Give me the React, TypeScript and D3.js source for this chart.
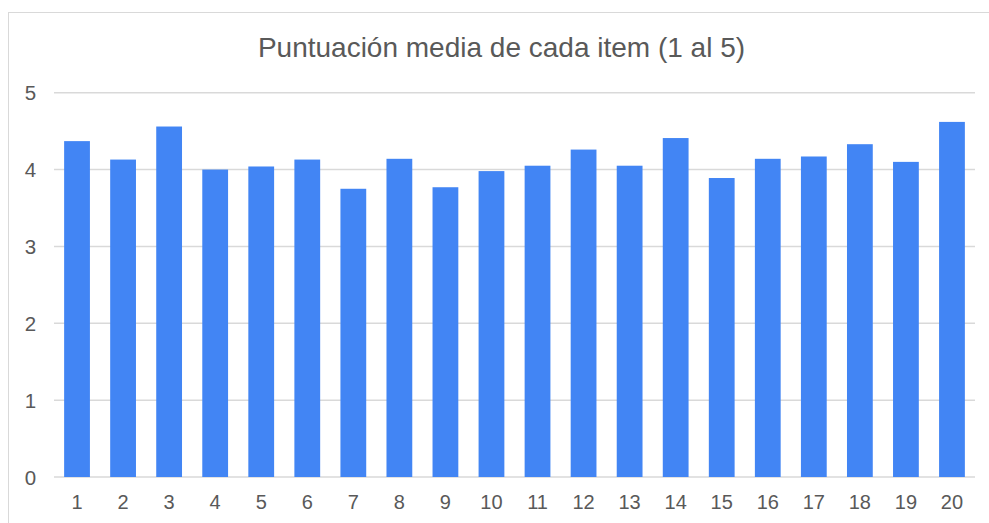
import React from "react";
import * as d3 from "d3";

const categories = ["1","2","3","4","5","6","7","8","9","10","11","12","13","14","15","16","17","18","19","20"];
const values = [4.37,4.13,4.56,4.0,4.04,4.13,3.75,4.14,3.77,3.98,4.05,4.26,4.05,4.41,3.89,4.14,4.17,4.33,4.10,4.62];
const yTicks = [0,1,2,3,4,5];
const title = "Puntuación media de cada item (1 al 5)";

export default function App() {
  const W = 989, H = 523;
  const left = 54, right = 975, top = 92.7, bottom = 477;
  const x = d3.scaleBand<string>().domain(categories).range([left, right]).paddingInner(0.44).paddingOuter(0.22);
  const y = d3.scaleLinear().domain([0, 5]).range([bottom, top]);
  const font = "Arial, 'Liberation Sans', sans-serif";
  return (
    <svg width={W} height={H} style={{ position: "absolute", left: 0, top: 0, background: "#fff" }}>
      <rect x={8.5} y={12.5} width={W - 8} height={H} fill="#fff" stroke="#d9d9d9" strokeWidth={1} />
      <text x={501.5} y={56.5} textAnchor="middle" fontFamily={font} fontSize={28} fill="#595959">{title}</text>
      {yTicks.map(t => (
        <g key={t}>
          <line x1={left} x2={right} y1={y(t)} y2={y(t)} stroke="#d9d9d9" strokeWidth={1.5} />
          <text x={30.5} y={y(t) + 7.5} textAnchor="middle" fontFamily={font} fontSize={20.5} fill="#595959">{t}</text>
        </g>
      ))}
      {categories.map((c, i) => (
        <rect key={c} x={x(c)} y={y(values[i])} width={x.bandwidth()} height={y(0) - y(values[i])} fill="#4285f4" />
      ))}
      {categories.map(c => (
        <text key={c} x={(x(c) as number) + x.bandwidth() / 2} y={509} textAnchor="middle" fontFamily={font} fontSize={20} fill="#595959">{c}</text>
      ))}
    </svg>
  );
}
